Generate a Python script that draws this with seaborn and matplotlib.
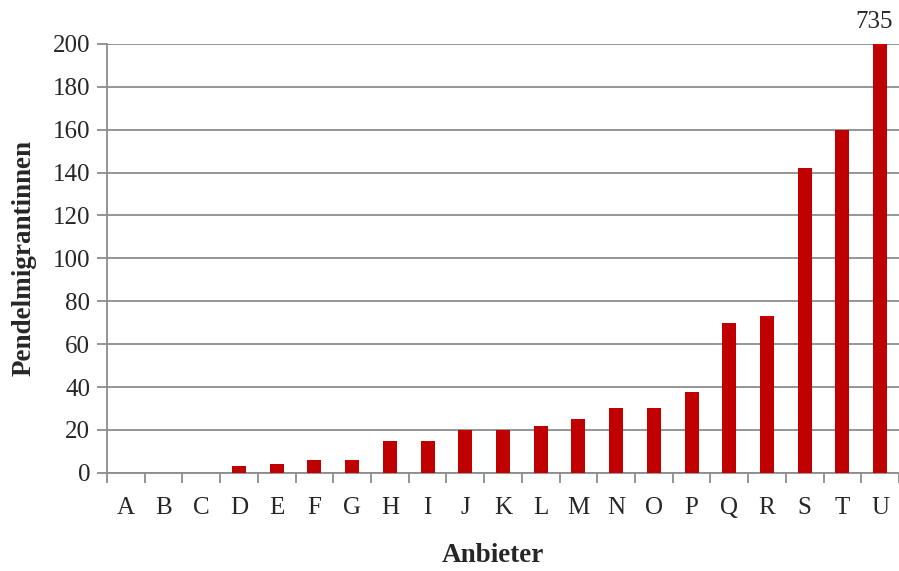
# Pendelmigrantinnen je Anbieter
import numpy as np
import pandas as pd
import matplotlib.pyplot as plt
import seaborn as sns
from matplotlib.ticker import FixedLocator

anbieter = list("ABCDEFGHIJKLMNOPQRSTU")
pendler = [0, 0, 0, 3, 4, 6, 6, 15, 15, 20, 20, 22, 25, 30, 30, 37.5, 70, 73, 142, 160, 735]
y_ticks = list(range(0, 201, 20))
y_max = 200

df = pd.DataFrame({"Anbieter": anbieter, "Pendler": pendler})

sns.set_style("white")
plt.rcParams["font.family"] = ["Liberation Serif", "DejaVu Serif"]

fig = plt.figure(figsize=(8.99, 5.71), dpi=100)
ax = fig.add_axes([0.119, 0.172, 0.881, 0.751])

grau = "#8c8c8c"
sns.barplot(data=df, x="Anbieter", y="Pendler", color="#c00000", saturation=1,
            width=0.37, linewidth=0, ax=ax, zorder=3)

ax.set_ylim(0, y_max)
ax.set_xlim(-0.5, len(anbieter) - 0.5)
ax.set_yticks(y_ticks)
ax.yaxis.grid(True, color=grau, linewidth=1.3, zorder=0)
ax.set_axisbelow(True)

# Tickstriche zwischen den Kategorien
ax.xaxis.set_minor_locator(FixedLocator(np.arange(-0.5, len(anbieter), 1.0)))
ax.tick_params(axis="x", which="major", bottom=False, length=0, labelsize=18, pad=17.5)
ax.tick_params(axis="x", which="minor", bottom=True, length=7, width=1.3, color=grau, direction="out")
ax.tick_params(axis="y", left=True, length=7, width=1.3, color=grau, direction="out", labelsize=18, pad=5)

for s in ["top", "right"]:
    ax.spines[s].set_visible(False)
for s in ["left", "bottom"]:
    ax.spines[s].set_color(grau)
    ax.spines[s].set_linewidth(1.3)

# Wert des abgeschnittenen Balkens
for i, v in enumerate(pendler):
    if v > y_max:
        ax.annotate(f"{v:g}", xy=(i, y_max), xytext=(-4, 8), textcoords="offset points",
                    ha="center", va="bottom", fontsize=18, annotation_clip=False)

ax.set_xlabel("Anbieter", fontsize=19.5, fontweight="bold")
ax.xaxis.set_label_coords(0.487, -0.164)
ax.set_ylabel("Pendelmigrantinnen", fontsize=19.5, fontweight="bold", labelpad=12)

fig.savefig("out.png", dpi=100)
